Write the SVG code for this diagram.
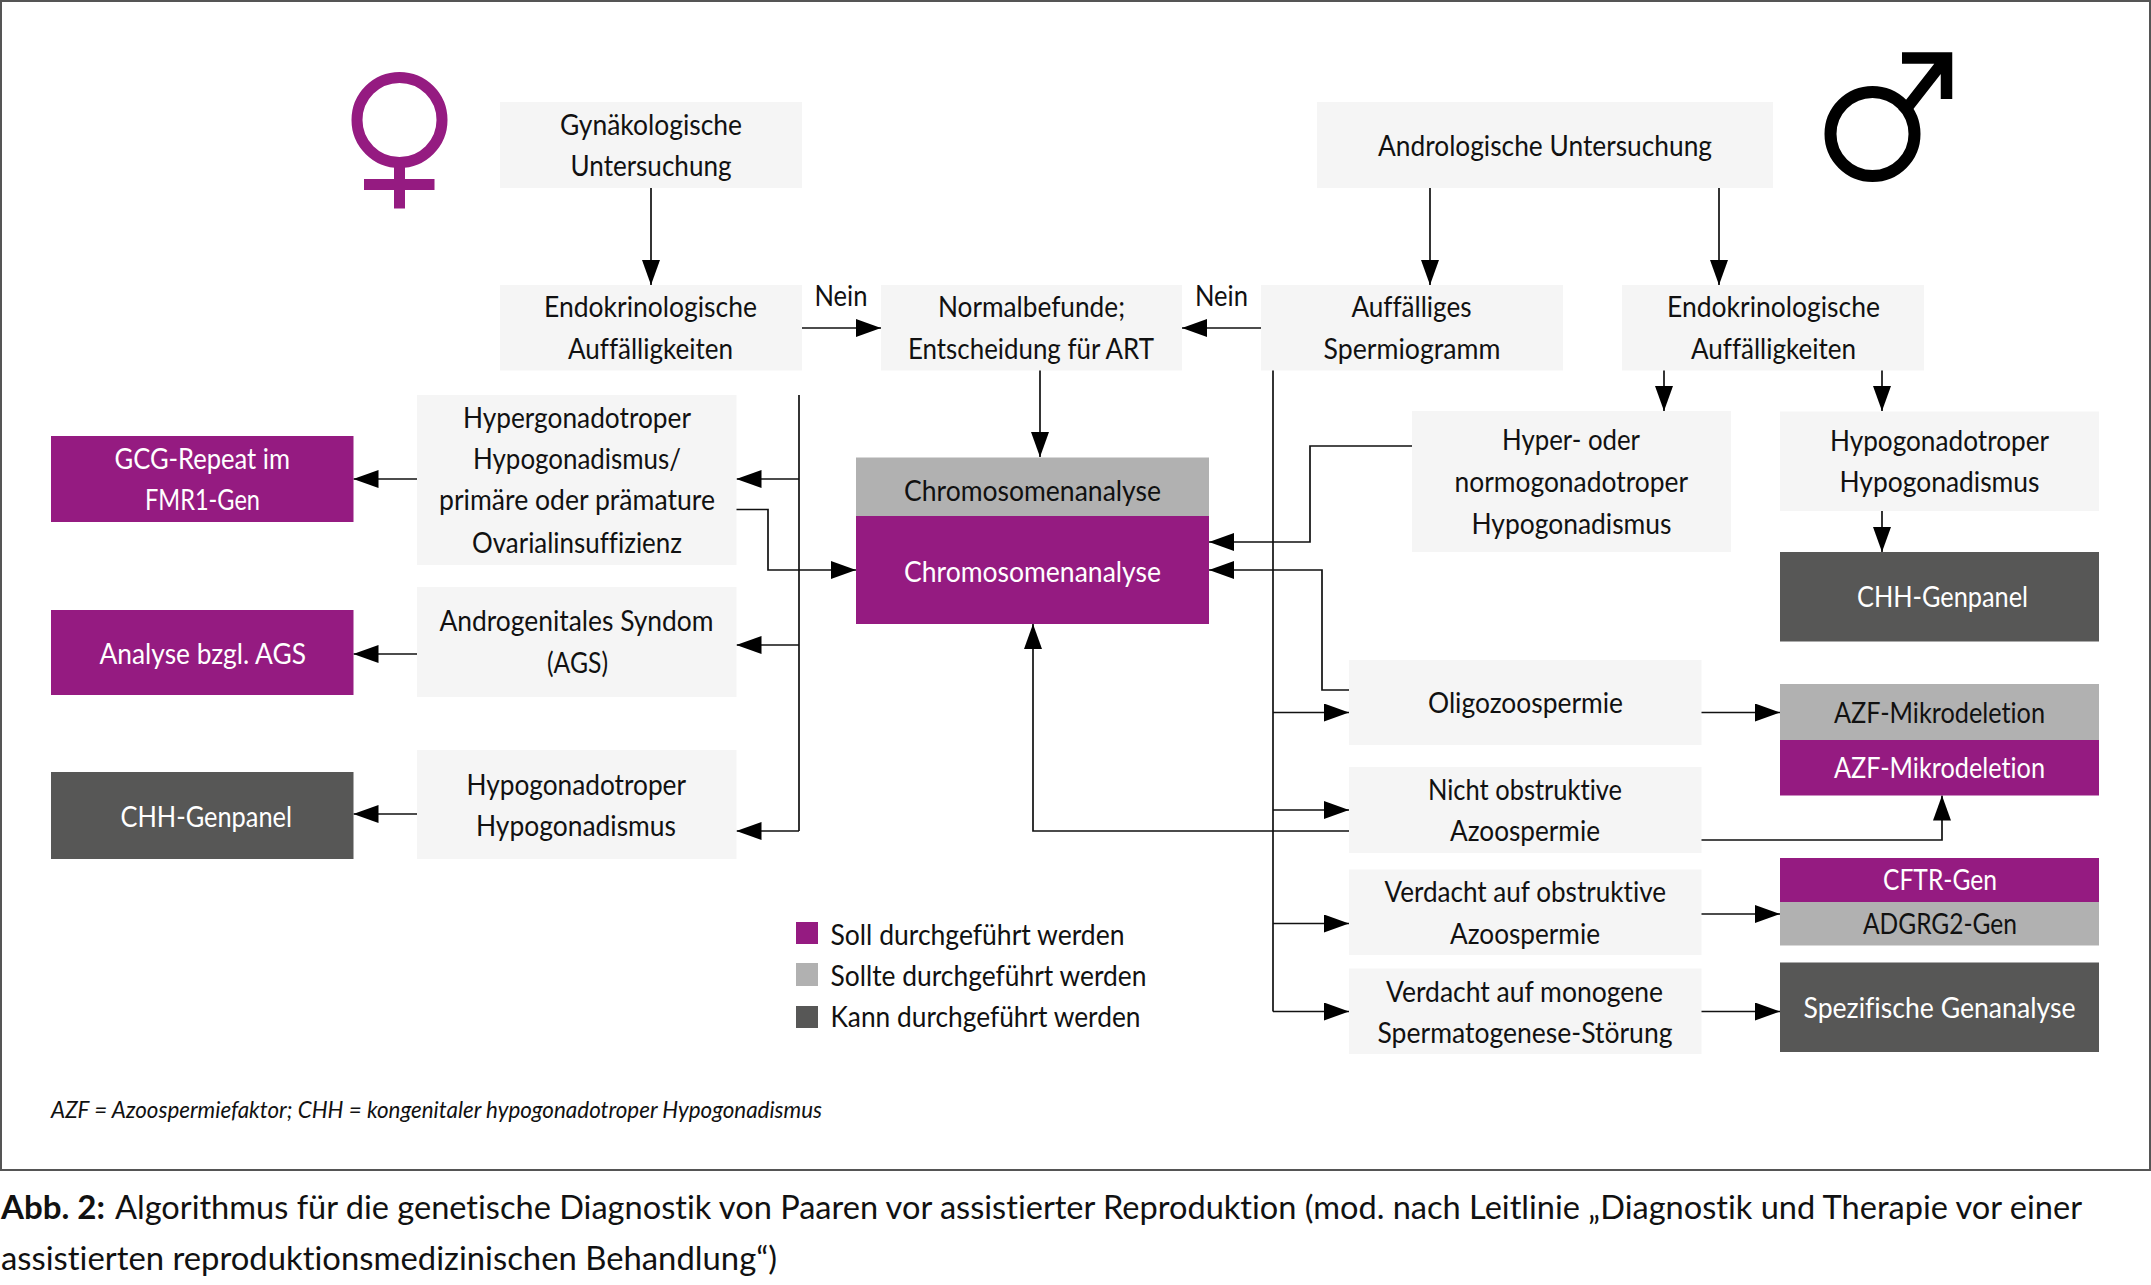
<svg xmlns="http://www.w3.org/2000/svg" width="2151" height="1285" viewBox="0 0 2151 1285">
<style>
text{font-family:"Lato","Liberation Sans",sans-serif;font-size:28px;fill:#111;font-variant-ligatures:none}
.w{fill:#fff}
.box{fill:#f5f5f5}.p{fill:#951b81}.g{fill:#b1b1b1}.d{fill:#575756}
.c{fill:none;stroke:#111;stroke-width:1.700;marker-end:url(#a)}
.n{fill:none;stroke:#111;stroke-width:1.700}
.fn{font-size:23px;font-style:italic}
.cap{font-size:32px}
.b{font-weight:700}
</style>
<defs><marker id="a" markerUnits="userSpaceOnUse" markerWidth="25" markerHeight="18" refX="25" refY="9" orient="auto"><path d="M0 0L25 9L0 18Z" fill="#000"/></marker></defs>
<rect width="2151" height="1285" fill="#fff"/>
<rect x="1" y="1" width="2149" height="1169" fill="none" stroke="#555" stroke-width="2"/>
<g id="female-symbol" fill="none" stroke="#951b81" stroke-width="11"><circle cx="399.5" cy="120" r="42.5"/><path d="M399.5 163V208.5M364 184.5H434.5"/></g>
<g id="male-symbol" fill="none" stroke="#000"><circle cx="1872.5" cy="134" r="42" stroke-width="12"/><path d="M1902 58H1946.5V99M1946 58L1903 113" stroke-width="11.500"/></g>

<g id="connectors">
<path class="c" d="M651 188V285"/>
<path class="c" d="M802 328H881"/>
<path class="n" d="M799 395V831"/>
<path class="c" d="M799 479H736.500"/>
<path class="c" d="M799 645H736.500"/>
<path class="c" d="M799 831H736.500"/>
<path class="c" d="M736 509.500H768V570H856"/>
<path class="c" d="M417 479H353.500"/>
<path class="c" d="M417 654H353.500"/>
<path class="c" d="M417 814H353.500"/>
<path class="c" d="M1040 370V457"/>
<path class="c" d="M1261 328H1182"/>
<path class="c" d="M1430 188V285"/>
<path class="c" d="M1719 188V285"/>
<path class="n" d="M1273 370V1011.500"/>
<path class="c" d="M1664 370V411"/>
<path class="c" d="M1882 370V411"/>
<path class="c" d="M1882 511V552"/>
<path class="c" d="M1412 446H1310V542H1209"/>
<path class="c" d="M1349 690H1322V570H1209"/>
<path class="c" d="M1273 712.500H1349"/>
<path class="c" d="M1273 810H1349"/>
<path class="c" d="M1273 923.500H1349"/>
<path class="c" d="M1273 1011.500H1349"/>
<path class="c" d="M1349 831H1033V624"/>
<path class="c" d="M1701 712.500H1780"/>
<path class="c" d="M1701 840H1942V795.500"/>
<path class="c" d="M1701 914H1780"/>
<path class="c" d="M1701 1011.500H1780"/>
</g>

<g id="n-gyn"><rect class="box" x="500" y="102" width="302" height="86"/><text x="560" y="135" textLength="182" lengthAdjust="spacingAndGlyphs">Gynäkologische</text><text x="570.500" y="175.500" textLength="161" lengthAdjust="spacingAndGlyphs">Untersuchung</text></g>
<g id="n-endo-l"><rect class="box" x="500" y="285" width="302" height="85.500"/><text x="544" y="317" textLength="213" lengthAdjust="spacingAndGlyphs">Endokrinologische</text><text x="568" y="359" textLength="165" lengthAdjust="spacingAndGlyphs">Auffälligkeiten</text></g>
<g id="n-normal"><rect class="box" x="881" y="285" width="301" height="85.500"/><text x="938" y="317" textLength="187" lengthAdjust="spacingAndGlyphs">Normalbefunde;</text><text x="908" y="359" textLength="246" lengthAdjust="spacingAndGlyphs">Entscheidung für ART</text></g>
<g id="n-auff"><rect class="box" x="1261" y="285" width="302" height="85.500"/><text x="1351.500" y="317" textLength="120" lengthAdjust="spacingAndGlyphs">Auffälliges</text><text x="1323.500" y="359" textLength="177" lengthAdjust="spacingAndGlyphs">Spermiogramm</text></g>
<g id="n-endo-r"><rect class="box" x="1622" y="285" width="302" height="85.500"/><text x="1667" y="317" textLength="213" lengthAdjust="spacingAndGlyphs">Endokrinologische</text><text x="1691" y="359" textLength="165" lengthAdjust="spacingAndGlyphs">Auffälligkeiten</text></g>
<g id="n-andro"><rect class="box" x="1317" y="102" width="456" height="86"/><text x="1378" y="155.500" textLength="334" lengthAdjust="spacingAndGlyphs">Andrologische Untersuchung</text></g>
<g id="n-hyper"><rect class="box" x="417" y="395" width="319.500" height="170"/><text x="463" y="428" textLength="228" lengthAdjust="spacingAndGlyphs">Hypergonadotroper</text><text x="473" y="469" textLength="208" lengthAdjust="spacingAndGlyphs">Hypogonadismus/</text><text x="439" y="510" textLength="276" lengthAdjust="spacingAndGlyphs">primäre oder prämature</text><text x="472" y="553" textLength="210" lengthAdjust="spacingAndGlyphs">Ovarialinsuffizienz</text></g>
<g id="n-ags-cond"><rect class="box" x="417" y="587" width="319.500" height="110"/><text x="439.500" y="631" textLength="274" lengthAdjust="spacingAndGlyphs">Androgenitales Syndom</text><text x="547" y="673" textLength="61" lengthAdjust="spacingAndGlyphs">(AGS)</text></g>
<g id="n-hypo-l"><rect class="box" x="417" y="750" width="319.500" height="109"/><text x="466.500" y="794.500" textLength="219.500" lengthAdjust="spacingAndGlyphs">Hypogonadotroper</text><text x="476" y="836" textLength="200" lengthAdjust="spacingAndGlyphs">Hypogonadismus</text></g>
<g id="n-gcg"><rect class="p" x="51" y="436" width="302.500" height="86"/><text class="w" x="114.500" y="468.500" textLength="175.500" lengthAdjust="spacingAndGlyphs">GCG-Repeat im</text><text class="w" x="145" y="510" textLength="115" lengthAdjust="spacingAndGlyphs">FMR1-Gen</text></g>
<g id="n-ags"><rect class="p" x="51" y="610" width="302.500" height="85"/><text class="w" x="99.500" y="663.500" textLength="206.500" lengthAdjust="spacingAndGlyphs">Analyse bzgl. AGS</text></g>
<g id="n-chh-l"><rect class="d" x="51" y="772" width="302.500" height="87"/><text class="w" x="120.500" y="826.500" textLength="171.500" lengthAdjust="spacingAndGlyphs">CHH-Genpanel</text></g>
<g id="n-chromo"><rect class="g" x="856" y="457.500" width="353" height="58.500"/><rect class="p" x="856" y="516" width="353" height="108"/><text x="904" y="500.500" textLength="257" lengthAdjust="spacingAndGlyphs">Chromosomenanalyse</text><text class="w" x="904" y="581.500" textLength="257" lengthAdjust="spacingAndGlyphs">Chromosomenanalyse</text></g>
<g id="n-hyper-r"><rect class="box" x="1412" y="411" width="319" height="141"/><text x="1502" y="450" textLength="138" lengthAdjust="spacingAndGlyphs">Hyper- oder</text><text x="1454.500" y="492" textLength="233.500" lengthAdjust="spacingAndGlyphs">normogonadotroper</text><text x="1471.500" y="534" textLength="200" lengthAdjust="spacingAndGlyphs">Hypogonadismus</text></g>
<g id="n-hypo-r"><rect class="box" x="1780" y="411.500" width="319" height="99.500"/><text x="1830" y="451" textLength="219" lengthAdjust="spacingAndGlyphs">Hypogonadotroper</text><text x="1839.500" y="492" textLength="200" lengthAdjust="spacingAndGlyphs">Hypogonadismus</text></g>
<g id="n-chh-r"><rect class="d" x="1780" y="552" width="319" height="89.500"/><text class="w" x="1857" y="607" textLength="171" lengthAdjust="spacingAndGlyphs">CHH-Genpanel</text></g>
<g id="n-oligo"><rect class="box" x="1349" y="660" width="352.500" height="85"/><text x="1428" y="713" textLength="195" lengthAdjust="spacingAndGlyphs">Oligozoospermie</text></g>
<g id="n-nicht"><rect class="box" x="1349" y="767" width="352.500" height="86"/><text x="1428" y="800" textLength="194" lengthAdjust="spacingAndGlyphs">Nicht obstruktive</text><text x="1450" y="841" textLength="150" lengthAdjust="spacingAndGlyphs">Azoospermie</text></g>
<g id="n-obstr"><rect class="box" x="1349" y="869.500" width="352.500" height="85.500"/><text x="1384.500" y="902" textLength="281.500" lengthAdjust="spacingAndGlyphs">Verdacht auf obstruktive</text><text x="1450" y="943.500" textLength="150" lengthAdjust="spacingAndGlyphs">Azoospermie</text></g>
<g id="n-mono"><rect class="box" x="1349" y="968.500" width="352.500" height="85.500"/><text x="1386" y="1001.500" textLength="277" lengthAdjust="spacingAndGlyphs">Verdacht auf monogene</text><text x="1377.500" y="1043" textLength="295" lengthAdjust="spacingAndGlyphs">Spermatogenese-Störung</text></g>
<g id="n-azf"><rect class="g" x="1780" y="684" width="319" height="56"/><rect class="p" x="1780" y="740" width="319" height="55.500"/><text x="1834" y="723" textLength="211" lengthAdjust="spacingAndGlyphs">AZF-Mikrodeletion</text><text class="w" x="1834" y="778" textLength="211" lengthAdjust="spacingAndGlyphs">AZF-Mikrodeletion</text></g>
<g id="n-cftr"><rect class="p" x="1780" y="858" width="319" height="44"/><rect class="g" x="1780" y="902" width="319" height="43.500"/><text class="w" x="1883" y="890" textLength="114" lengthAdjust="spacingAndGlyphs">CFTR-Gen</text><text x="1863" y="934" textLength="154" lengthAdjust="spacingAndGlyphs">ADGRG2-Gen</text></g>
<g id="n-spez"><rect class="d" x="1780" y="962.500" width="319" height="89.500"/><text class="w" x="1803.500" y="1018" textLength="272" lengthAdjust="spacingAndGlyphs">Spezifische Genanalyse</text></g>

<g id="labels"><text x="814.500" y="306" textLength="53" lengthAdjust="spacingAndGlyphs">Nein</text><text x="1195" y="306" textLength="53" lengthAdjust="spacingAndGlyphs">Nein</text></g>
<g id="legend">
<rect class="p" x="796" y="922" width="22" height="22"/><text x="830.500" y="944.500" textLength="294" lengthAdjust="spacingAndGlyphs">Soll durchgeführt werden</text>
<rect class="g" x="796" y="963" width="22" height="23"/><text x="830.500" y="985.500" textLength="316" lengthAdjust="spacingAndGlyphs">Sollte durchgeführt werden</text>
<rect class="d" x="796" y="1006" width="22" height="22"/><text x="830.500" y="1027" textLength="310" lengthAdjust="spacingAndGlyphs">Kann durchgeführt werden</text>
</g>
<text class="fn" x="51" y="1118" textLength="771" lengthAdjust="spacingAndGlyphs">AZF = Azoospermiefaktor; CHH = kongenitaler hypogonadotroper Hypogonadismus</text>
<g id="caption">
<text class="cap b" x="1" y="1219" textLength="104" lengthAdjust="spacingAndGlyphs">Abb. 2:</text>
<text class="cap" x="115" y="1219" textLength="1967" lengthAdjust="spacingAndGlyphs">Algorithmus für die genetische Diagnostik von Paaren vor assistierter Reproduktion (mod. nach Leitlinie „Diagnostik und Therapie vor einer</text>
<text class="cap" x="1" y="1270" textLength="776" lengthAdjust="spacingAndGlyphs">assistierten reproduktionsmedizinischen Behandlung“)</text>
</g>
</svg>
